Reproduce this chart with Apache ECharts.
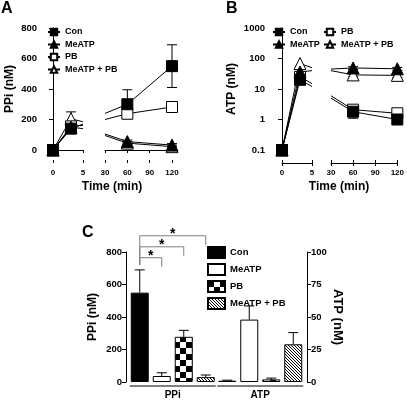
<!DOCTYPE html>
<html><head><meta charset="utf-8">
<script src="https://cdn.jsdelivr.net/npm/echarts@6/dist/echarts.min.js"></script>
<style>html,body{margin:0;padding:0;background:#fff}#c{width:407px;height:400px}</style>
</head><body><div id="c"></div>
<script>
// ---------- DATA ----------
const seriesNames = ['Con', 'MeATP', 'PB', 'MeATP + PB'];
// Time axis (broken): early part 0-5 min, late part 30-120 min
const timesEarly = [0, 3, 5];
const timesLate = [30, 60, 120];
const earlyIsPoint = [true, true, false];   // t=5 is only where the line leaves the axis break
const lateIsPoint = [false, true, true];    // t=30 is only where the line re-enters
// Panel A: PPi (nM), order = seriesNames
const ppiEarly = [[0, 140, 170], [0, 150, 140], [0, 155, 162], [0, 205, 185]];
const ppiLate = [[240, 300, 550], [105, 55, 32], [200, 238, 282], [95, 45, 22]];
const ppiSemEarly = [[0, 30, 0], [0, 20, 0], [0, 20, 0], [0, 45, 0]];
const ppiSemLate = [[0, 95, 140], [0, 10, 10], [0, 15, 33], [0, 10, 10]];
// Panel B: ATP (nM)
const atpEarly = [[0.1, 20, 12], [0.1, 36, 40], [0.1, 25, 15], [0.1, 68, 50]];
const atpLate = [[5, 1.8, 1.0], [45, 49, 46], [6, 2.1, 1.6], [40, 29, 28]];
const atpSemLate = [[0, 0.7, 0.2], [0, 5, 5], [0, 0.4, 0.5], [0, 4, 4]];
// Panel C: bars
const groupLabels = ['PPi', 'ATP'];
const ppiMeans = [550, 37, 278, 30];
const ppiErr = [140, 20, 40, 13];
const atpMeans = [1.0, 48, 2.0, 29];
const atpErr = [0.4, 10.5, 1.0, 9];
// significance brackets (Con vs slot), PPi axis units
const bracketToSlot = [1, 2, 3];
const bracketTop = [765, 832, 900];
const bracketEnd = [708, 777, 843];
const bracketStart = 720;
const bracketLabel = ['*', '*', '*'];

// ---------- STYLE ----------
const FONT = '"Liberation Sans", Arial, Helvetica, sans-serif';
const BAR_W = 18, BAR_GAP = 4;
const markerSymbol = ['rect', 'triangle', 'rect', 'triangle'];
const markerFill = ['#000', '#000', '#fff', '#fff'];

function checker() {
  const c = document.createElement('canvas'); c.width = 12; c.height = 12;
  const g = c.getContext('2d');
  g.fillStyle = '#fff'; g.fillRect(0, 0, 12, 12);
  g.fillStyle = '#000'; g.fillRect(0, 0, 6, 6); g.fillRect(6, 6, 6, 6);
  return c;
}
function hatch() {
  const c = document.createElement('canvas'); c.width = 3; c.height = 3;
  const g = c.getContext('2d');
  g.fillStyle = '#fff'; g.fillRect(0, 0, 3, 3);
  g.fillStyle = '#000';
  for (let i = 0; i < 3; i++) g.fillRect(i, i, 1, 1);
  return c;
}
const barFills = ['#000', '#fff', { image: checker(), repeat: 'repeat' }, { image: hatch(), repeat: 'repeat' }];

const chart = echarts.init(document.getElementById('c'), null, { renderer: 'canvas' });

function timeAxes(gridIndex, min, max, interval) {
  const common = { type: 'value', gridIndex, min, max, interval, splitLine: { show: false },
    axisLine: { show: true, lineStyle: { color: '#000', width: 1 } } };
  return [
    Object.assign({}, common, { position: 'bottom', offset: 13,
      axisTick: { show: true, length: 3, lineStyle: { color: '#000' } },
      axisLabel: { fontSize: 8, fontWeight: 'bold', color: '#000', margin: 6, fontFamily: FONT } }),
    Object.assign({}, common, { position: 'top', offset: -135, axisLine: { show: false },
      axisTick: { show: true, length: 3, lineStyle: { color: '#000' } }, axisLabel: { show: false } })
  ];
}
const yLabel = { fontSize: 9.5, fontWeight: 'bold', color: '#000', margin: 4, fontFamily: FONT };
const yName = { fontSize: 12, fontWeight: 'bold', color: '#000', fontFamily: FONT };
const axLine = { show: true, lineStyle: { color: '#000', width: 1 } };
const axTick = { show: true, length: 4, lineStyle: { color: '#000' } };
const logFmt = v => (v >= 1 ? String(Math.round(v)) : String(+v.toPrecision(2)));

const xAxis = [].concat(
  timeAxes(0, 0, 5, 5), timeAxes(1, 30, 120, 30),
  timeAxes(2, 0, 5, 5), timeAxes(3, 30, 120, 30),
  [
    { type: 'category', gridIndex: 4, data: groupLabels, axisLine: { show: false }, axisTick: { show: false },
      axisLabel: { fontSize: 10, fontWeight: 'bold', color: '#000', margin: 8, fontFamily: FONT } },
    { type: 'category', gridIndex: 4, data: groupLabels, show: false }
  ]
);
const yAxis = [
  { type: 'value', gridIndex: 0, min: 0, max: 800, interval: 200, offset: 12, axisLine: axLine, axisTick: axTick,
    splitLine: { show: false }, axisLabel: yLabel, name: 'PPi (nM)', nameLocation: 'middle', nameGap: 25, nameTextStyle: yName },
  { type: 'value', gridIndex: 1, min: 0, max: 800, interval: 200, show: false },
  { type: 'log', logBase: 10, gridIndex: 2, min: 0.1, max: 1000, offset: 13, axisLine: axLine, axisTick: axTick,
    splitLine: { show: false }, minorTick: { show: false }, axisLabel: Object.assign({ formatter: logFmt }, yLabel),
    name: 'ATP (nM)', nameLocation: 'middle', nameGap: 31, nameTextStyle: yName },
  { type: 'log', logBase: 10, gridIndex: 3, min: 0.1, max: 1000, show: false },
  { type: 'value', gridIndex: 4, min: 0, max: 800, interval: 200, offset: 3, axisLine: axLine, axisTick: axTick,
    splitLine: { show: false }, axisLabel: yLabel, name: 'PPi (nM)', nameLocation: 'middle', nameGap: 27, nameTextStyle: yName },
  { type: 'value', gridIndex: 4, position: 'right', min: 0, max: 100, interval: 25, offset: 3, axisLine: axLine, axisTick: axTick,
    splitLine: { show: false }, axisLabel: yLabel, name: 'ATP (nM)', nameLocation: 'middle', nameGap: 21, nameRotate: -90,
    nameTextStyle: Object.assign({}, yName, { fontSize: 13 }) }
];

function errRender(params, api) {
  const x = api.value(0), lo = api.value(1), hi = api.value(2);
  const a = api.coord([x, hi]), b = api.coord([x, lo]);
  const st = { stroke: '#000', lineWidth: 1 };
  return { type: 'group', children: [
    { type: 'line', shape: { x1: a[0], y1: a[1], x2: b[0], y2: b[1] }, style: st },
    { type: 'line', shape: { x1: a[0] - 5, y1: a[1], x2: a[0] + 5, y2: a[1] }, style: st },
    { type: 'line', shape: { x1: b[0] - 5, y1: b[1], x2: b[0] + 5, y2: b[1] }, style: st }
  ] };
}

const series = [];
// legend-only carriers (no data) so legend markers are drawn small
seriesNames.forEach((n, i) => {
  series.push({ type: 'line', name: n, xAxisIndex: 0, yAxisIndex: 0, data: [], symbol: markerSymbol[i],
    symbolSize: i % 2 ? 9 : 8, silent: true,
    lineStyle: { color: '#000', width: 1 },
    itemStyle: { color: markerFill[i], borderColor: '#000', borderWidth: 1 } });
});
function addPanel(early, late, semEarly, semLate, xE, yE, xL, yL) {
  const eE = [], eL = [];
  early.forEach((vals, i) => vals.forEach((v, k) => {
    if (earlyIsPoint[k] && semEarly[i][k] > 0) eE.push([timesEarly[k], v - semEarly[i][k], v + semEarly[i][k]]);
  }));
  late.forEach((vals, i) => vals.forEach((v, k) => {
    if (lateIsPoint[k] && semLate[i][k] > 0) eL.push([timesLate[k], v - semLate[i][k], v + semLate[i][k]]);
  }));
  series.push({ type: 'custom', xAxisIndex: xE, yAxisIndex: yE, data: eE, renderItem: errRender, clip: false, silent: true, z: 1 });
  series.push({ type: 'custom', xAxisIndex: xL, yAxisIndex: yL, data: eL, renderItem: errRender, clip: false, silent: true, z: 1 });
  for (let i = seriesNames.length - 1; i >= 0; i--) {
    const base = {
      type: 'line', name: seriesNames[i], symbol: markerSymbol[i], symbolSize: i % 2 ? 12 : 11,
      showAllSymbol: true, clip: false, silent: true, z: 3,
      lineStyle: { color: '#000', width: 1 },
      itemStyle: { color: markerFill[i], borderColor: '#000', borderWidth: 1 }
    };
    series.push(Object.assign({}, base, { xAxisIndex: xE, yAxisIndex: yE,
      data: timesEarly.map((t, k) => earlyIsPoint[k] ? [t, early[i][k]] : { value: [t, early[i][k]], symbol: 'none' }) }));
    series.push(Object.assign({}, base, { xAxisIndex: xL, yAxisIndex: yL,
      data: timesLate.map((t, k) => lateIsPoint[k] ? [t, late[i][k]] : { value: [t, late[i][k]], symbol: 'none' }) }));
  }
}
addPanel(ppiEarly, ppiLate, ppiSemEarly, ppiSemLate, 0, 0, 2, 1);
const atpSemEarly = atpEarly.map(r => r.map(() => 0));
addPanel(atpEarly, atpLate, atpSemEarly, atpSemLate, 4, 2, 6, 3);

// Panel C bars
const slotOffset = s => (s - 1.5) * (BAR_W + BAR_GAP);
seriesNames.forEach((n, i) => {
  series.push({ type: 'bar', name: 'C:' + n, xAxisIndex: 8, yAxisIndex: 4, data: [ppiMeans[i], '-'],
    barWidth: BAR_W, barGap: (BAR_GAP / BAR_W * 100) + '%', silent: true,
    itemStyle: { color: barFills[i], borderColor: '#000', borderWidth: 1 } });
});
seriesNames.forEach((n, i) => {
  series.push({ type: 'bar', name: 'C:' + n, xAxisIndex: 9, yAxisIndex: 5, data: ['-', atpMeans[i]],
    barWidth: BAR_W, barGap: (BAR_GAP / BAR_W * 100) + '%', silent: true,
    itemStyle: { color: barFills[i], borderColor: '#000', borderWidth: 1 } });
});
function barErrRender(params, api) {
  const cat = api.value(0), slot = api.value(1), mean = api.value(2), top = api.value(3);
  const cx = api.coord([cat, 0])[0] + slotOffset(slot);
  const yT = api.coord([cat, top])[1], yM = api.coord([cat, mean])[1];
  const st = { stroke: '#000', lineWidth: 1 };
  return { type: 'group', children: [
    { type: 'line', shape: { x1: cx, y1: yM, x2: cx, y2: yT }, style: st },
    { type: 'line', shape: { x1: cx - 5, y1: yT, x2: cx + 5, y2: yT }, style: st }
  ] };
}
series.push({ type: 'custom', xAxisIndex: 8, yAxisIndex: 4, renderItem: barErrRender, clip: false, silent: true, z: 1,
  data: ppiMeans.map((m, i) => [0, i, m, m + ppiErr[i]]) });
series.push({ type: 'custom', xAxisIndex: 9, yAxisIndex: 5, renderItem: barErrRender, clip: false, silent: true, z: 1,
  data: atpMeans.map((m, i) => [1, i, m, m + atpErr[i]]) });
// group underlines
series.push({ type: 'custom', xAxisIndex: 8, yAxisIndex: 4, clip: false, silent: true,
  data: groupLabels.map((g, i) => [i, 0]),
  renderItem: (p, api) => {
    const c = api.coord([api.value(0), 0]);
    const hw = 2 * (BAR_W + BAR_GAP) - 1;
    return { type: 'line', shape: { x1: c[0] - hw, y1: c[1] + 4, x2: c[0] + hw, y2: c[1] + 4 }, style: { stroke: '#000', lineWidth: 1 } };
  } });
// significance brackets
series.push({ type: 'custom', xAxisIndex: 8, yAxisIndex: 4, clip: false, silent: true,
  data: bracketToSlot.map((s, k) => [0, s, bracketTop[k], bracketEnd[k], k]),
  renderItem: (p, api) => {
    const c0 = api.coord([0, 0])[0];
    const x0 = c0 + slotOffset(0), x1 = c0 + slotOffset(api.value(1));
    const yT = api.coord([0, api.value(2)])[1], yE = api.coord([0, api.value(3)])[1], yS = api.coord([0, bracketStart])[1];
    return { type: 'group', children: [
      { type: 'polyline', shape: { points: [[x0, yS], [x0, yT], [x1, yT], [x1, yE]] }, style: { stroke: '#7f7f7f', lineWidth: 1, fill: null } },
      { type: 'text', x: (x0 + x1) / 2, y: yT - 2, style: { text: bracketLabel[api.value(4)], font: 'bold 14px ' + FONT, fill: '#000', align: 'center', verticalAlign: 'middle' } }
    ] };
  } });

const legendText = { fontSize: 9, fontWeight: 'bold', color: '#000', fontFamily: FONT, lineHeight: 10 };
const lineLegend = { orient: 'vertical', itemWidth: 12, itemHeight: 8, itemGap: 2.5, textStyle: legendText, selectedMode: false, padding: 0 };
const option = {
  animation: false,
  textStyle: { fontFamily: FONT },
  grid: [
    { left: 53, top: 28, width: 30, height: 122 },
    { left: 105, top: 28, width: 67, height: 122 },
    { left: 282, top: 28, width: 30, height: 122 },
    { left: 331, top: 28, width: 69, height: 122 },
    { left: 129, top: 252, width: 175, height: 131 }
  ],
  xAxis, yAxis,
  legend: [
    Object.assign({ data: seriesNames, left: 47, top: 27 }, lineLegend),
    Object.assign({ data: seriesNames.slice(0, 2), left: 272, top: 27 }, lineLegend),
    Object.assign({ data: seriesNames.slice(2), left: 323, top: 27 }, lineLegend),
    { data: seriesNames.map(n => 'C:' + n), orient: 'vertical', left: 207, top: 246, itemWidth: 17, itemHeight: 11, itemGap: 4,
      icon: 'rect', formatter: n => n.slice(2), textStyle: Object.assign({}, legendText, { fontSize: 9.5, lineHeight: 11 }),
      selectedMode: false, padding: 0 }
  ],
  graphic: [
    { type: 'text', x: 1, y: 1, style: { text: 'A', font: 'bold 16px ' + FONT, fill: '#000' } },
    { type: 'text', x: 226, y: 1, style: { text: 'B', font: 'bold 16px ' + FONT, fill: '#000' } },
    { type: 'text', x: 82, y: 225, style: { text: 'C', font: 'bold 16px ' + FONT, fill: '#000' } },
    { type: 'text', x: 112, y: 187, style: { text: 'Time (min)', font: 'bold 12px ' + FONT, fill: '#000', align: 'center', verticalAlign: 'middle' } },
    { type: 'text', x: 339, y: 187, style: { text: 'Time (min)', font: 'bold 12px ' + FONT, fill: '#000', align: 'center', verticalAlign: 'middle' } }
  ],
  series
};
chart.setOption(option);
</script>
</body></html>
